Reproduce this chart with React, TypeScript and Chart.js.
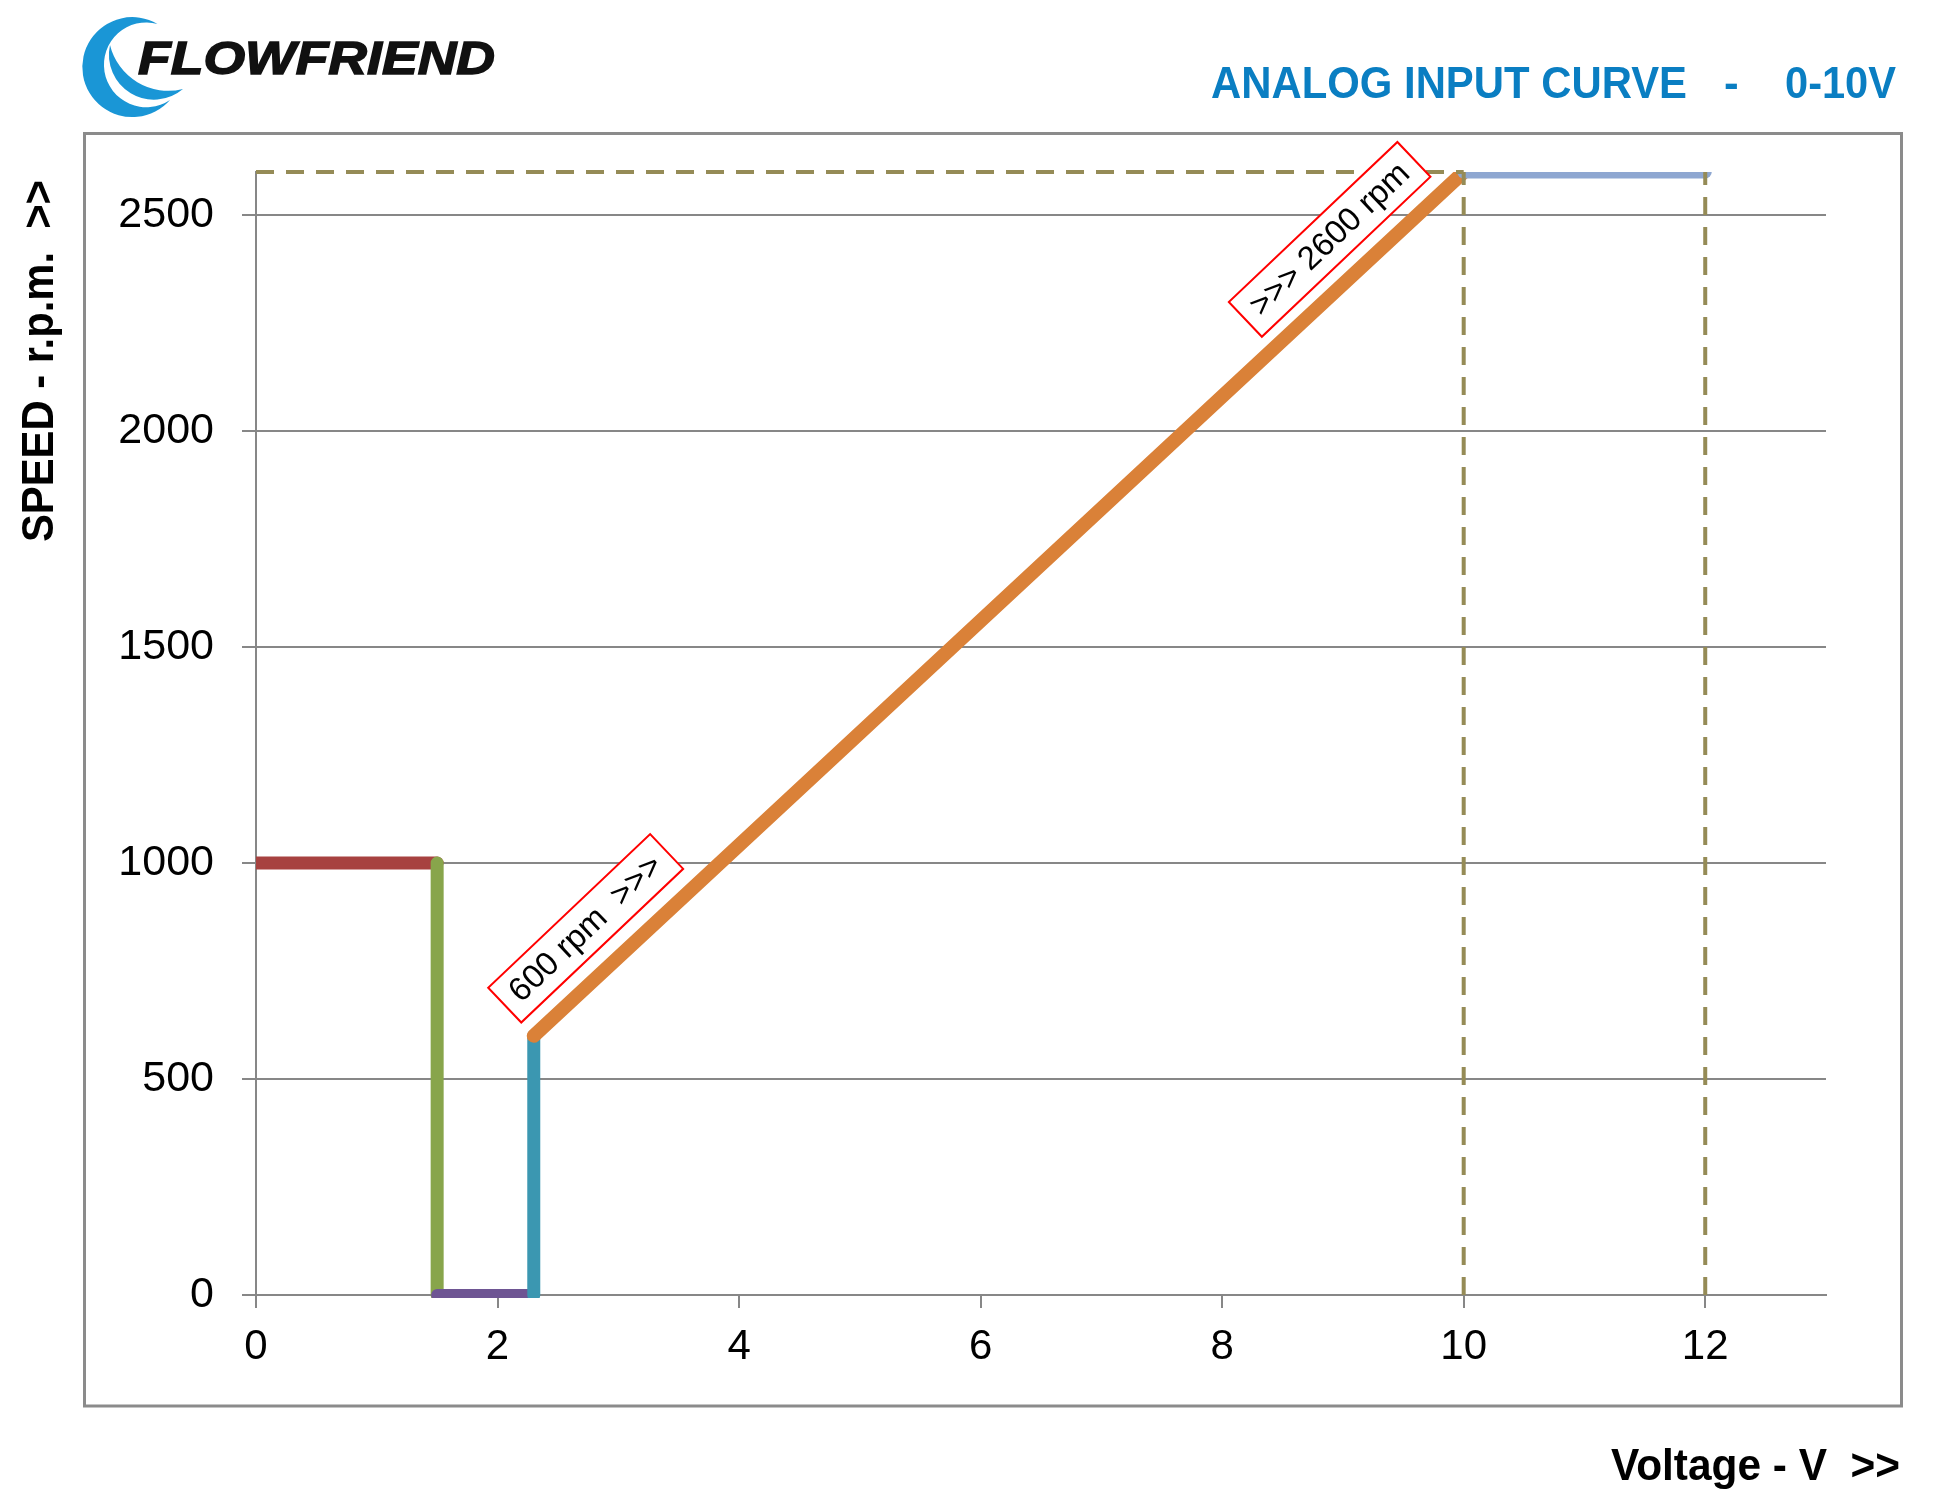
import React, { useEffect, useRef } from "react";
import { Chart, registerables } from "chart.js";

Chart.register(...registerables);

// ---- axis values ----
const xTicks = [0, 2, 4, 6, 8, 10, 12];
const yTicks = [0, 500, 1000, 1500, 2000, 2500];
const X_MIN = 0;
const X_MAX = 13;
const Y_MIN = 0;
const Y_MAX = 2600;

// ---- series (Voltage V -> speed rpm) ----
const standbyVolts = [0, 1.5];
const standbyRpm = [1000, 1000];
const dropVolts = [1.5, 1.5];
const dropRpm = [1000, 0];
const stopVolts = [1.5, 2.3];
const stopRpm = [0, 0];
const startVolts = [2.3, 2.3];
const startRpm = [0, 600];
const rampVolts = [2.3, 10];
const rampRpm = [600, 2600];
const maxVolts = [10, 12];
const maxRpm = [2600, 2600];

// ---- dashed guide lines ----
const guideTopVolts = [0, 10];
const guideTopRpm = [2600, 2600];
const guide10Volts = [10, 10];
const guide10Rpm = [0, 2600];
const guide12Volts = [12, 12];
const guide12Rpm = [0, 2600];

// ---- annotations ----
const noteTexts = ["600 rpm  >>>", ">>> 2600 rpm"];
const noteVolts = [2.73, 8.89];
const noteRpm = [849, 2444];

const pts = (xs: number[], ys: number[]) => xs.map((x, i) => ({ x, y: ys[i] }));

const FONT = '"Liberation Sans", Arial, Helvetica, sans-serif';
const GRID = "#878787";

const notePlugin = {
  id: "notes",
  afterDatasetsDraw(chart: any) {
    const { ctx } = chart;
    const xs = chart.scales.x;
    const ys = chart.scales.y;
    noteTexts.forEach((t, i) => {
      const px = xs.getPixelForValue(noteVolts[i]);
      const py = ys.getPixelForValue(noteRpm[i]);
      ctx.save();
      ctx.translate(px, py);
      ctx.rotate((-43.5 * Math.PI) / 180);
      ctx.font = `33px ${FONT}`;
      const w = ctx.measureText(t).width + 26;
      const h = 48;
      ctx.fillStyle = "#ffffff";
      ctx.fillRect(-w / 2, -h / 2, w, h);
      ctx.strokeStyle = "#FF0000";
      ctx.lineWidth = 2;
      ctx.strokeRect(-w / 2, -h / 2, w, h);
      ctx.fillStyle = "#000000";
      ctx.textAlign = "center";
      ctx.textBaseline = "middle";
      ctx.fillText(t, 0, 1);
      ctx.restore();
    });
  },
};

const solid = (label: string, data: any[], color: string, width: number, clip: any) => ({
  label,
  data,
  borderColor: color,
  backgroundColor: color,
  borderWidth: width,
  borderCapStyle: "round",
  borderJoinStyle: "round",
  pointRadius: 0,
  fill: false,
  clip,
});

const dashed = (label: string, data: any[]) => ({
  label,
  data,
  borderColor: "#958B56",
  borderWidth: 4,
  borderDash: [18, 12],
  borderCapStyle: "butt",
  pointRadius: 0,
  fill: false,
  clip: false,
});

const CLIP = { left: 0, top: 0, right: 20, bottom: 3 };

export default function App() {
  const ref = useRef<HTMLCanvasElement>(null);

  useEffect(() => {
    const chart = new Chart(ref.current as HTMLCanvasElement, {
      type: "line",
      data: {
        datasets: [
          dashed("guide top", pts(guideTopVolts, guideTopRpm)),
          dashed("guide 10V", pts(guide10Volts, guide10Rpm)),
          dashed("guide 12V", pts(guide12Volts, guide12Rpm)),
          solid("max", pts(maxVolts, maxRpm), "#8EA7D1", 13, CLIP),
          solid("ramp", pts(rampVolts, rampRpm), "#DA8138", 14, CLIP),
          solid("start", pts(startVolts, startRpm), "#3B97B1", 13, CLIP),
          solid("stop", pts(stopVolts, stopRpm), "#6E5593", 12, CLIP),
          solid("drop", pts(dropVolts, dropRpm), "#88A54B", 13, CLIP),
          solid("standby", pts(standbyVolts, standbyRpm), "#A74240", 13, CLIP),
        ] as any,
      },
      options: {
        responsive: false,
        animation: false,
        devicePixelRatio: 1,
        events: [],
        layout: { padding: { top: 172, right: 120, bottom: 0, left: 0 } },
        plugins: {
          legend: { display: false },
          tooltip: { enabled: false },
          title: { display: false },
        },
        elements: { point: { radius: 0 }, line: { tension: 0 } },
        scales: {
          x: {
            type: "linear",
            min: X_MIN,
            max: X_MAX,
            afterBuildTicks: (s: any) => {
              s.ticks = xTicks.map((v) => ({ value: v }));
            },
            afterFit: (s: any) => {
              s.height = 213;
            },
            ticks: {
              autoSkip: false,
              maxRotation: 0,
              minRotation: 0,
              color: "#000000",
              padding: 14,
              font: { family: FONT, size: 42 },
              callback: (v: any) => String(v),
            },
            grid: {
              display: true,
              drawOnChartArea: false,
              drawTicks: true,
              tickLength: 13,
              color: GRID,
              lineWidth: 2,
            },
            border: { display: true, color: GRID, width: 2 },
          },
          y: {
            type: "linear",
            min: Y_MIN,
            max: Y_MAX,
            afterBuildTicks: (s: any) => {
              s.ticks = yTicks.map((v) => ({ value: v }));
            },
            afterFit: (s: any) => {
              s.width = 256;
            },
            ticks: {
              autoSkip: false,
              color: "#000000",
              padding: 28,
              font: { family: FONT, size: 43 },
              callback: (v: any) => String(v),
            },
            grid: {
              display: true,
              drawOnChartArea: true,
              drawTicks: true,
              tickLength: 14,
              color: GRID,
              lineWidth: 2,
            },
            border: { display: true, color: GRID, width: 2 },
          },
        },
      } as any,
      plugins: [notePlugin as any],
    });
    return () => chart.destroy();
  }, []);

  return (
    <div
      style={{
        position: "absolute",
        left: 0,
        top: 0,
        width: 1946,
        height: 1508,
        background: "#ffffff",
        overflow: "hidden",
      }}
    >
      <canvas ref={ref} width={1946} height={1508} style={{ display: "block", width: 1946, height: 1508 }} />
      <svg
        width={1946}
        height={1508}
        style={{ position: "absolute", left: 0, top: 0, pointerEvents: "none" }}
      >
        <rect x={84.5} y={133.5} width={1817} height={1272.5} fill="none" stroke="#8B8B8B" strokeWidth={3} />
        {/* logo */}
        <path d="M 157.5 23.9 A 50 50 0 1 0 170 100 A 42.4 42.4 0 1 1 157.5 23.9 Z" fill="#1A96D6" />
        <path d="M 110 45 A 45 45 0 0 0 183 89 A 60 60 0 0 1 110 45 Z" fill="#1A96D6" />
        <text
          x={138}
          y={74}
          fontFamily={FONT}
          fontWeight={700}
          fontStyle="italic"
          fontSize={47}
          textLength={357}
          lengthAdjust="spacingAndGlyphs"
          fill="#111111"
          stroke="#111111"
          strokeWidth={1.5}
        >
          FLOWFRIEND
        </text>
        {/* title */}
        <text x={1211} y={98} fontFamily={FONT} fontWeight={700} fontSize={44} fill="#0A7EC2" textLength={476} lengthAdjust="spacingAndGlyphs">
          ANALOG INPUT CURVE
        </text>
        <text x={1724} y={98} fontFamily={FONT} fontWeight={700} fontSize={44} fill="#0A7EC2">
          -
        </text>
        <text x={1785} y={98} fontFamily={FONT} fontWeight={700} fontSize={44} fill="#0A7EC2" textLength={111} lengthAdjust="spacingAndGlyphs">
          0-10V
        </text>
        {/* axis titles */}
        <text
          transform="translate(53,542) rotate(-90)"
          fontFamily={FONT}
          fontWeight={700}
          fontSize={44}
          fill="#000000"
          textLength={362}
          lengthAdjust="spacingAndGlyphs"
          style={{ whiteSpace: "pre" }}
        >
          {"SPEED - r.p.m.  >>"}
        </text>
        <text
          x={1611}
          y={1480}
          fontFamily={FONT}
          fontWeight={700}
          fontSize={44}
          fill="#000000"
          textLength={289}
          lengthAdjust="spacingAndGlyphs"
          style={{ whiteSpace: "pre" }}
        >
          {"Voltage - V  >>"}
        </text>
      </svg>
    </div>
  );
}
